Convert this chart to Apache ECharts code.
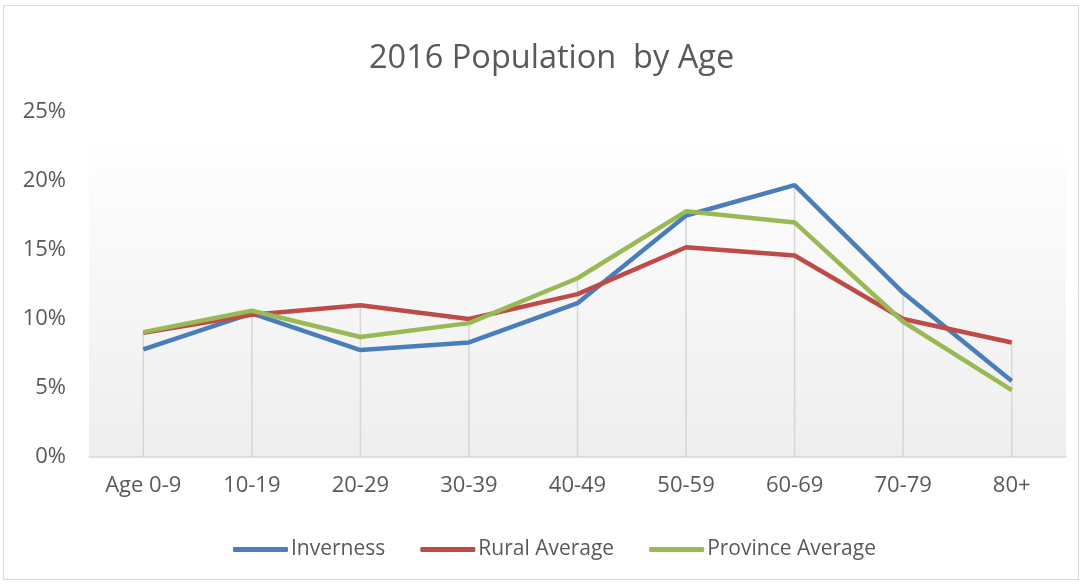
<!DOCTYPE html>
<html>
<head>
<meta charset="utf-8">
<script src="https://cdn.jsdelivr.net/npm/echarts@6/dist/echarts.min.js"></script>
<style>
html,body{margin:0;padding:0;background:#fff;}
#c{width:1083px;height:585px;}
</style>
</head>
<body>
<div id="c"></div>
<script>
const categories = ['Age 0-9','10-19','20-29','30-39','40-49','50-59','60-69','70-79','80+'];
const inverness = [7.8, 10.4, 7.75, 8.3, 11.15, 17.5, 19.7, 11.9, 5.5];
const ruralAverage = [9.0, 10.3, 11.0, 10.0, 11.8, 15.2, 14.6, 10.0, 8.3];
const provinceAverage = [9.05, 10.6, 8.7, 9.7, 12.95, 17.8, 17.0, 9.8, 4.85];
const yTicks = [0, 5, 10, 15, 20, 25];

const dropLines = categories.map((c, i) => Math.max(inverness[i], ruralAverage[i], provinceAverage[i]));

const FONT = "'Open Sans', 'Noto Sans', sans-serif";
const chart = echarts.init(document.getElementById('c'), null, {renderer: 'canvas'});
chart.setOption({
  animation: false,
  backgroundColor: '#ffffff',
  textStyle: {fontFamily: FONT},
  title: {
    text: '2016 Population  by Age',
    left: 364,
    top: 37,
    textStyle: {fontFamily: FONT, fontSize: 32.5, fontWeight: 'normal', color: '#595959'}
  },
  graphic: [
    {type: 'rect', z: -10, silent: true, shape: {x: 3.5, y: 5.5, width: 1075, height: 574},
      style: {fill: '#ffffff', stroke: '#d9d9d9', lineWidth: 1}},
    {type: 'rect', z: -5, silent: true, shape: {x: 89, y: 147, width: 977, height: 310},
      style: {fill: new echarts.graphic.LinearGradient(0, 0, 0, 1, [
        {offset: 0, color: '#fefefe'}, {offset: 1, color: '#eeeeee'}])}}
  ],
  legend: {
    data: ['Inverness', 'Rural Average', 'Province Average'],
    top: 534,
    left: 228,
    icon: 'roundRect',
    itemWidth: 55,
    itemHeight: 5,
    itemGap: 35,
    textStyle: {fontFamily: FONT, fontSize: 21, color: '#595959', padding: [0, 0, 0, -2]}
  },
  grid: {left: 89, right: 17, top: 112, bottom: 128, containLabel: false},
  xAxis: {
    type: 'category',
    data: categories,
    boundaryGap: true,
    axisLine: {show: true, lineStyle: {color: '#d9d9d9', width: 1.5}},
    axisTick: {show: false},
    axisLabel: {fontFamily: FONT, fontSize: 22, color: '#595959', margin: 18},
    splitLine: {show: false}
  },
  yAxis: {
    type: 'value',
    min: yTicks[0],
    max: yTicks[yTicks.length - 1],
    interval: 5,
    axisLine: {show: false},
    axisTick: {show: false},
    splitLine: {show: false},
    axisLabel: {fontFamily: FONT, fontSize: 22, color: '#595959', margin: 23, formatter: v => v + '%'}
  },
  series: [
    {name: 'drop', type: 'bar', data: dropLines, barWidth: 1.5, silent: true, z: 1,
      itemStyle: {color: '#d6d6d6'}, barGap: '-100%'},
    {name: 'Inverness', type: 'line', data: inverness, symbol: 'none', z: 3,
      lineStyle: {width: 4.5, color: '#4a7ebb'}, itemStyle: {color: '#4a7ebb'}},
    {name: 'Rural Average', type: 'line', data: ruralAverage, symbol: 'none', z: 3,
      lineStyle: {width: 4.5, color: '#be4b48'}, itemStyle: {color: '#be4b48'}},
    {name: 'Province Average', type: 'line', data: provinceAverage, symbol: 'none', z: 4,
      lineStyle: {width: 4.5, color: '#98b954'}, itemStyle: {color: '#98b954'}}
  ]
});
</script>
</body>
</html>
